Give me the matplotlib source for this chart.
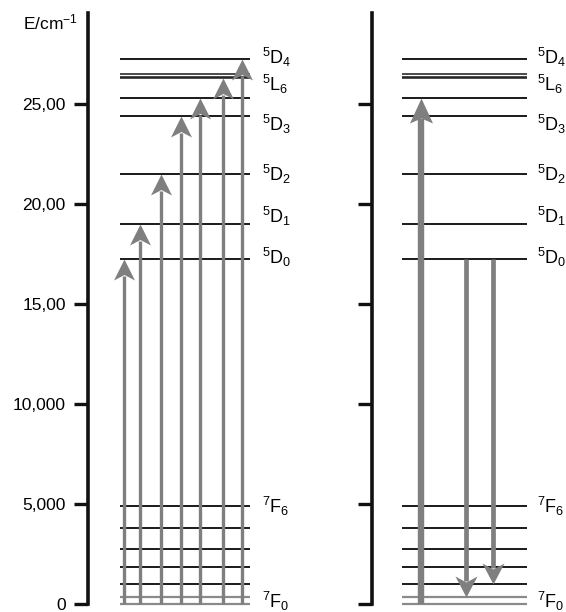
import matplotlib
matplotlib.use("Agg")
import matplotlib.pyplot as plt
import numpy as np
from matplotlib.path import Path

plt.rcParams["font.family"] = ["Liberation Sans", "DejaVu Sans"]
plt.rcParams["mathtext.fontset"] = "custom"
plt.rcParams["mathtext.rm"] = "Liberation Sans"
plt.rcParams["mathtext.it"] = "Liberation Sans:italic"
plt.rcParams["mathtext.default"] = "regular"

# Eu3+ energy levels, cm-1
levels_D = [17250, 19000, 21500, 24400, 25300, 27250]
levels_L6 = [26480, 26330, 26280]
levels_F = [1000, 1850, 2750, 3800, 4900]
levels_F_grey = [0, 350]

level_labels = [r"$^{5}D_{4}$", r"$^{5}L_{6}$", r"$^{5}D_{3}$", r"$^{5}D_{2}$",
                r"$^{5}D_{1}$", r"$^{5}D_{0}$", r"$^{7}F_{6}$", r"$^{7}F_{0}$"]
label_E = [27325, 25950, 23950, 21450, 19350, 17325, 4875, 125]

# transitions
excite_left = [17250, 19000, 21500, 24400, 25300, 26300, 27250]
excite_right = [25300]
emit_start = 17250
emit_end = [350, 1000]

yticks = [0, 5000, 10000, 15000, 20000, 25000]
ytick_labels = ["0", "5,000", "10,000", "15,00", "20,00", "25,00"]

# ---- layout (pixels) ----
W, H, DPI = 566, 612, 100
y_bot, y_top = 604, 13
E_top = 29550
grey = "#7f7f7f"
line_col = "#1a1a1a"

fig = plt.figure(figsize=(W / DPI, H / DPI), dpi=DPI)
ax_h = (y_bot - y_top) / H
axL = fig.add_axes([88 / W, (H - y_bot) / H, 212 / W, ax_h])
axR = fig.add_axes([372 / W, (H - y_bot) / H, 194 / W, ax_h])
E_per_px = E_top / (y_bot - y_top)


def arrow(ax, x, e0, e1, lw, head_len, head_w, notch):
    s = 1 if e1 > e0 else -1
    shaft_end = e1 - s * (notch + 1) * E_per_px
    ax.plot([x, x], [e0, shaft_end], color=grey, lw=lw,
            solid_capstyle="butt", zorder=3, clip_on=False)
    verts = [(0, 0), (-head_w / 2, -s * head_len), (0, -s * notch),
             (head_w / 2, -s * head_len), (0, 0)]
    head = Path(verts, closed=True)
    ms = 2 * max(head_len, head_w / 2) * 72 / DPI
    ax.plot([x], [e1], marker=head, ms=ms, color=grey, mew=0,
            zorder=4, clip_on=False)


for ax, (x0, x1), lab_x in [(axL, (32, 162), 174), (axR, (30, 155), 165)]:
    ax.set_xlim(0, ax.get_position().width * W)
    ax.set_ylim(0, E_top)
    for s in ["top", "right", "bottom"]:
        ax.spines[s].set_visible(False)
    ax.spines["left"].set_linewidth(2.6)
    ax.spines["left"].set_color("#111111")
    ax.set_xticks([])
    ax.set_yticks(yticks)
    ax.tick_params(axis="y", direction="out", length=10, width=2.4,
                   color="#111111", pad=6, labelsize=12.5)
    ax.patch.set_alpha(0)
    ax.hlines(levels_D + levels_F, x0, x1, colors=line_col, lw=1.4, zorder=2)
    ax.hlines(levels_L6, x0, x1, colors=line_col, lw=1.1, zorder=2)
    ax.hlines(levels_F_grey, x0, x1, colors="#8a8a8a", lw=1.6, zorder=2,
              clip_on=False)
    for txt, e in zip(level_labels, label_E):
        ax.text(lab_x, e - 6.5 * E_per_px, txt, ha="left", va="baseline",
                fontsize=13, clip_on=False)

axL.set_yticklabels(ytick_labels)
axR.set_yticklabels([])

# left: excitation arrows
for x, e in zip([36, 52, 73, 93, 112, 135, 154], excite_left):
    arrow(axL, x, 0, e, lw=2.4, head_len=21, head_w=21, notch=15.5)

# right: excitation and emission
arrow(axR, 49, 0, excite_right[0], lw=4.6, head_len=25, head_w=23, notch=20)
for x, e in zip([94, 121], emit_end):
    arrow(axR, x, emit_start, e, lw=3.4, head_len=21, head_w=22, notch=15)

fig.text(78 / W, 1 - 22 / H, r"E/cm$^{-1}$", ha="right", va="center",
         fontsize=12.5)

fig.savefig("out.png", dpi=DPI)
